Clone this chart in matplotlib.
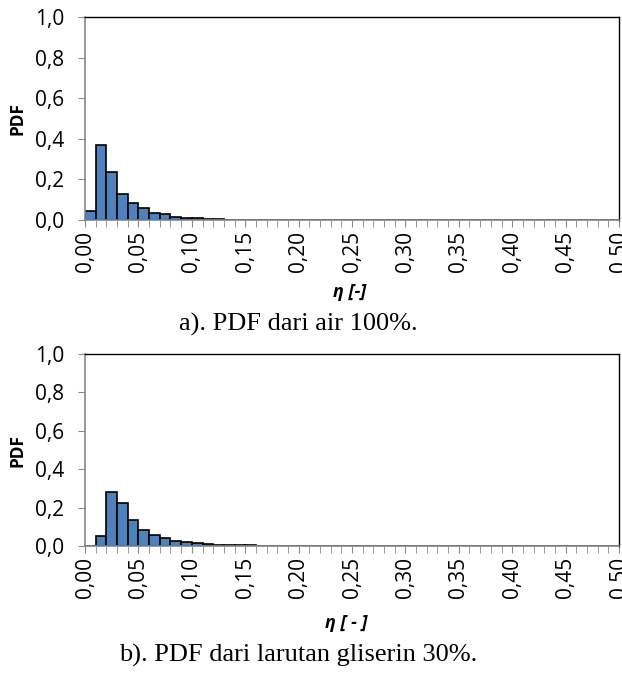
import matplotlib.pyplot as plt
import numpy as np

bin_edges = np.round(np.arange(0, 0.51, 0.01), 2)
pdf_air = [0.042, 0.37, 0.235, 0.128, 0.082, 0.057, 0.034, 0.028, 0.015, 0.01,
           0.009, 0.005, 0.003, 0.002, 0.002, 0.001, 0.001, 0.001, 0.001, 0.001] + [0.0] * 30
pdf_gli = [0.0, 0.05, 0.28, 0.225, 0.133, 0.085, 0.056, 0.042, 0.028, 0.021,
           0.014, 0.01, 0.007, 0.005, 0.004, 0.003, 0.002, 0.002, 0.001, 0.001] + [0.0] * 30
tick_vals = [0.0, 0.05, 0.10, 0.15, 0.20, 0.25, 0.30, 0.35, 0.40, 0.45, 0.50]
tick_labels = ['0,00', '0,05', '0,10', '0,15', '0,20', '0,25', '0,30', '0,35', '0,40', '0,45', '0,50']
y_vals = [0.0, 0.2, 0.4, 0.6, 0.8, 1.0]
y_labels = ['0,0', '0,2', '0,4', '0,6', '0,8', '1,0']

plt.rcParams['font.family'] = ['Open Sans', 'DejaVu Sans']

fig = plt.figure(figsize=(6.22, 6.75), dpi=100)
ax1 = fig.add_axes([0.1367, 0.6741, 0.8585, 0.3007])
ax2 = fig.add_axes([0.1367, 0.1911, 0.8585, 0.2844])


def draw(ax, pdf):
    ax.bar(bin_edges[:-1], pdf, width=0.01, align='edge', color='#4F81BD',
           edgecolor='black', linewidth=1.2)
    ax.set_xlim(0, 0.5)
    ax.set_ylim(0, 1.0)
    ax.set_xticks(tick_vals)
    ax.set_xticklabels(tick_labels, rotation=90, fontsize=15)
    ax.set_xticks(bin_edges, minor=True)
    ax.set_yticks(y_vals)
    ax.set_yticklabels(y_labels, fontsize=15)
    ax.tick_params(axis='x', which='both', length=5, color='#888888', pad=3)
    ax.tick_params(axis='y', length=5, color='#888888', pad=10)
    for s in ['left', 'bottom']:
        ax.spines[s].set_color('#888888')
        ax.spines[s].set_linewidth(1.2)
    for s in ['top', 'right']:
        ax.spines[s].set_color('black')
        ax.spines[s].set_linewidth(1.0)


draw(ax1, pdf_air)
draw(ax2, pdf_gli)

# axis titles
fig.text(18 / 622, 0.825, 'PDF', rotation=90, ha='center', va='center',
         fontsize=12.5, fontweight='bold')
fig.text(18 / 622, 0.333, 'PDF', rotation=90, ha='center', va='center',
         fontsize=12.5, fontweight='bold')
fig.text(350 / 622, 1 - 292 / 675, 'η [-]', ha='center', va='center',
         fontsize=13, fontweight='bold', fontstyle='italic')
fig.text(346 / 622, 1 - 623 / 675, 'η [ - ]', ha='center', va='center',
         fontsize=13, fontweight='bold', fontstyle='italic')

# captions
fig.text(298 / 622, 1 - 324 / 675, 'a). PDF dari air 100%.', ha='center', va='center',
         fontsize=19, family='Liberation Serif')
fig.text(298 / 622, 1 - 655 / 675, 'b). PDF dari larutan gliserin 30%.', ha='center', va='center',
         fontsize=19, family='Liberation Serif')

fig.savefig('out.png', dpi=100)
